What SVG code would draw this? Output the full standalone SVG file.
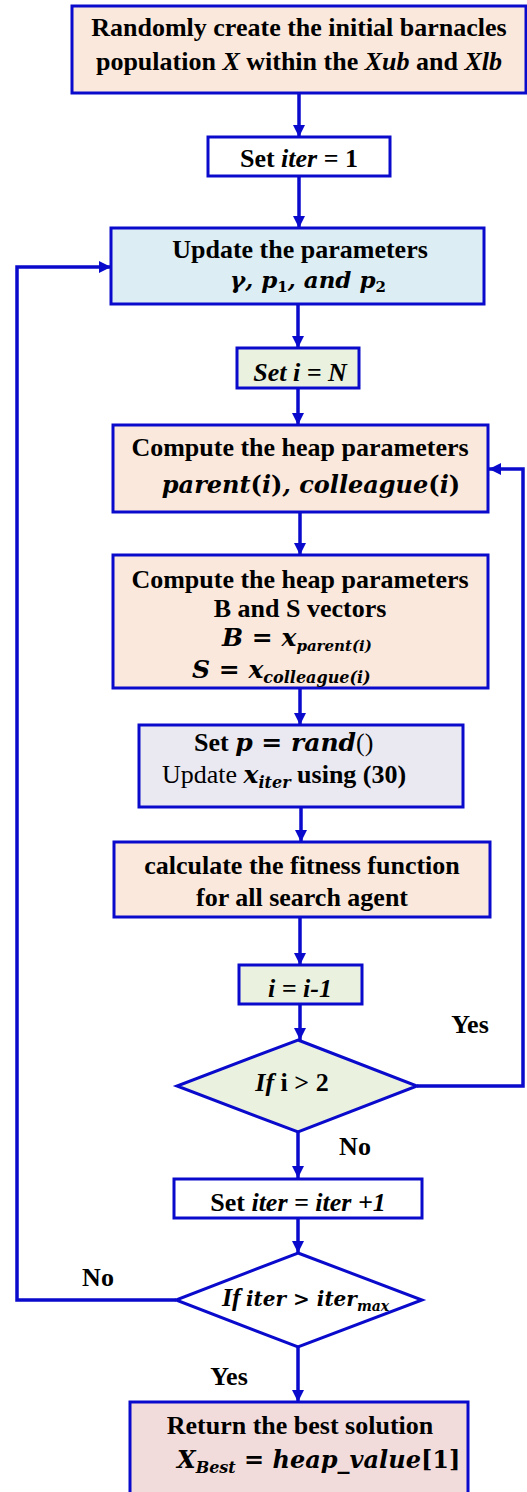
<svg xmlns="http://www.w3.org/2000/svg" width="527" height="1492" viewBox="0 0 527 1492">
  <style>
    .box { stroke: #0a0acc; stroke-width: 3; }
    .peach { fill: #fbe8dc; }
    .blue { fill: #dcedf4; }
    .green { fill: #ebf1df; }
    .lav { fill: #eae8f1; }
    .pink { fill: #f2dcdb; }
    .white { fill: #ffffff; }
    .wire { fill: none; stroke: #0a0acc; stroke-width: 3.5; }
    text { font-family: "Liberation Serif", "Times New Roman", serif; font-weight: bold; fill: #000; font-size: 26px; }
    .c { text-anchor: middle; }
    .i { font-style: italic; }
    .m { font-family: "DejaVu Serif", "Liberation Serif", serif; font-style: italic; font-weight: bold; }
  </style>
  <defs>
    <marker id="arrow" viewBox="0 0 12 12" refX="12" refY="6" markerWidth="12" markerHeight="12" markerUnits="userSpaceOnUse" orient="auto">
      <path d="M0,0 L12,6 L0,12 Z" fill="#0a0acc"/>
    </marker>
  </defs>

  <!-- connectors -->
  <g id="connectors">
    <line class="wire" x1="299" y1="93" x2="299" y2="137" marker-end="url(#arrow)"/>
    <line class="wire" x1="299" y1="176" x2="299" y2="228" marker-end="url(#arrow)"/>
    <line class="wire" x1="298" y1="304" x2="298" y2="348" marker-end="url(#arrow)"/>
    <line class="wire" x1="298" y1="388" x2="298" y2="425" marker-end="url(#arrow)"/>
    <line class="wire" x1="300" y1="512" x2="300" y2="555" marker-end="url(#arrow)"/>
    <line class="wire" x1="300" y1="688" x2="300" y2="725" marker-end="url(#arrow)"/>
    <line class="wire" x1="301" y1="807" x2="301" y2="842" marker-end="url(#arrow)"/>
    <line class="wire" x1="300" y1="917" x2="300" y2="965" marker-end="url(#arrow)"/>
    <line class="wire" x1="300" y1="1004" x2="300" y2="1040" marker-end="url(#arrow)"/>
    <line class="wire" x1="298" y1="1132" x2="298" y2="1178" marker-end="url(#arrow)"/>
    <line class="wire" x1="298" y1="1218" x2="298" y2="1253" marker-end="url(#arrow)"/>
    <line class="wire" x1="298" y1="1347" x2="298" y2="1402" marker-end="url(#arrow)"/>
    <!-- inner loop: i > 2 back to heap parameters -->
    <polyline class="wire" points="417,1086 523,1086 523,469 489,469" marker-end="url(#arrow)"/>
    <!-- outer loop: iter not finished back to parameter update -->
    <polyline class="wire" points="176,1300 17,1300 17,267 111,267" marker-end="url(#arrow)"/>
    <text x="470" y="1033" class="c">Yes</text>
    <text x="355" y="1155" class="c">No</text>
    <text x="98" y="1286" class="c">No</text>
    <text x="229" y="1385" class="c">Yes</text>
  </g>

  <g id="init">
    <rect class="box peach" x="72" y="6" width="454" height="87"/>
    <text x="299" y="36" class="c">Randomly create the initial barnacles</text>
    <text x="299" y="70" class="c">population  <tspan class="i">X</tspan> within the <tspan class="i">Xub</tspan> and <tspan class="i">Xlb</tspan></text>
  </g>

  <g id="set-iter">
    <rect class="box white" x="208" y="137" width="182" height="39"/>
    <text x="299" y="167" class="c">Set <tspan class="i">iter</tspan> = 1</text>
  </g>

  <g id="update-params">
    <rect class="box blue" x="111" y="228" width="373" height="76"/>
    <text x="300" y="258" class="c">Update the parameters</text>
    <text x="308" y="288" class="c m" style="font-size:23px">γ, p<tspan style="font-size:15px;font-style:normal" dy="4">1</tspan><tspan dy="-4">, and p</tspan><tspan style="font-size:15px;font-style:normal" dy="4">2</tspan></text>
  </g>

  <g id="set-i">
    <rect class="box green" x="237" y="348" width="122" height="40"/>
    <text x="300" y="381" class="c i">Set i = N</text>
  </g>

  <g id="heap-params">
    <rect class="box peach" x="113" y="425" width="375" height="87"/>
    <text x="300" y="456" class="c">Compute the heap parameters</text>
    <text x="311" y="493" class="c m" style="font-size:24px">parent<tspan style="font-style:normal">(</tspan>i<tspan style="font-style:normal">)</tspan>, colleague<tspan style="font-style:normal">(</tspan>i<tspan style="font-style:normal">)</tspan></text>
  </g>

  <g id="bs-vectors">
    <rect class="box peach" x="113" y="555" width="375" height="133"/>
    <text x="300" y="588" class="c">Compute the heap parameters</text>
    <text x="300" y="617" class="c">B and S vectors</text>
    <text x="222" y="646" class="m" style="font-size:25px">B = x<tspan style="font-size:15px" dy="5">parent(i)</tspan></text>
    <text x="192" y="678" class="m" style="font-size:25px">S =  x<tspan style="font-size:16px" dy="5">colleague(i)</tspan></text>
  </g>

  <g id="position-update">
    <rect class="box lav" x="139" y="725" width="324" height="82"/>
    <text x="194" y="751">Set  <tspan class="m" style="font-size:25px">p = rand</tspan><tspan style="font-weight:normal">()</tspan></text>
    <text x="162" y="783"><tspan style="font-weight:normal">Update</tspan>  <tspan class="m" style="font-size:25px">x</tspan><tspan class="m" style="font-size:16px" dy="5">iter</tspan><tspan dy="-5"> using (30)</tspan></text>
  </g>

  <g id="fitness">
    <rect class="box peach" x="114" y="842" width="376" height="75"/>
    <text x="302" y="874" class="c">calculate the fitness function</text>
    <text x="302" y="906" class="c">for all search agent</text>
  </g>

  <g id="decrement-i">
    <rect class="box green" x="239" y="965" width="123" height="39"/>
    <text x="300" y="997" class="c i">i = i-1</text>
  </g>

  <g id="check-i">
    <polygon class="box green" points="298,1040 417,1086 298,1132 177,1086"/>
    <text x="292" y="1091" class="c"><tspan class="i">If</tspan> i &gt; 2</text>
  </g>

  <g id="increment-iter">
    <rect class="box white" x="174" y="1179" width="248" height="39"/>
    <text x="298" y="1211" class="c">Set <tspan class="i">iter = iter +1</tspan></text>
  </g>

  <g id="check-iter">
    <polygon class="box white" points="298,1253 422,1300 298,1347 176,1300"/>
    <text x="222" y="1306" class="i">If</text>
    <text x="246" y="1306" class="m" style="font-size:20px">iter &gt; iter<tspan style="font-size:14px" dy="5">max</tspan></text>
  </g>

  <g id="result">
    <rect class="box pink" x="130" y="1402" width="338" height="100"/>
    <text x="300" y="1434" class="c">Return the best solution</text>
    <text x="177" y="1468" class="m" style="font-size:24px">X<tspan style="font-size:16px" dy="5">Best</tspan><tspan dy="-5"> = heap_value</tspan><tspan style="font-style:normal">[1]</tspan></text>
  </g>
</svg>
